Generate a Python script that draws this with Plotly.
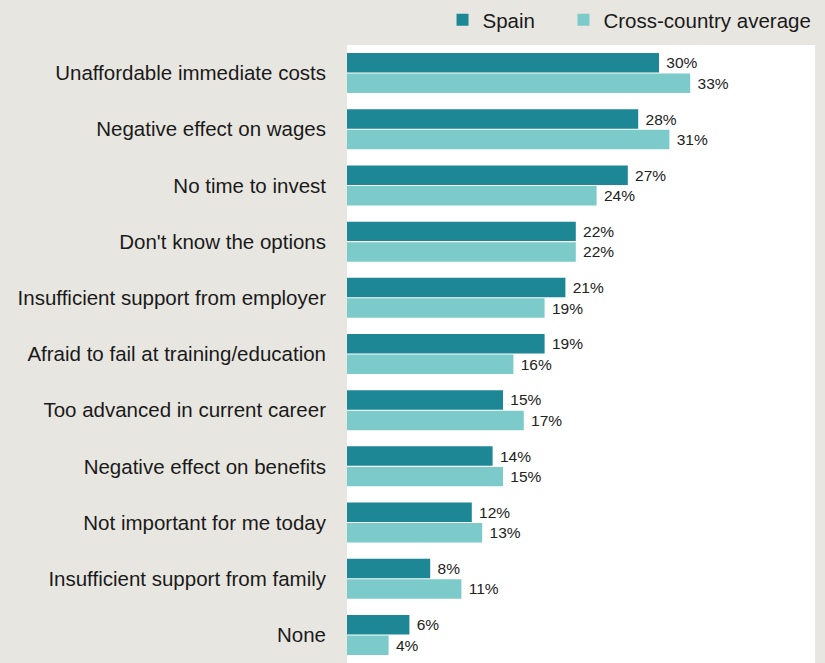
import plotly.graph_objects as go

categories = [
    "Unaffordable immediate costs",
    "Negative effect on wages",
    "No time to invest",
    "Don't know the options",
    "Insufficient support from employer",
    "Afraid to fail at training/education",
    "Too advanced in current career",
    "Negative effect on benefits",
    "Not important for me today",
    "Insufficient support from family",
    "None",
]
spain = [30, 28, 27, 22, 21, 19, 15, 14, 12, 8, 6]
cross_country = [33, 31, 24, 22, 19, 16, 17, 15, 13, 11, 4]

FONT = "Liberation Sans, Arial, sans-serif"
fig = go.Figure()
fig.add_trace(go.Bar(
    name="Spain", y=categories, x=spain, orientation="h", legend="legend",
    marker=dict(color="#1e8796", line=dict(width=0)),
    text=[f"\u00a0{v}%" for v in spain], textposition="outside",
    textfont=dict(size=15.5, color="#222222", family=FONT), cliponaxis=False,
))
fig.add_trace(go.Bar(
    name="Cross-country average", y=categories, x=cross_country, orientation="h",
    legend="legend2",
    marker=dict(color="#7ccbca", line=dict(width=0)),
    text=[f"\u00a0{v}%" for v in cross_country], textposition="outside",
    textfont=dict(size=15.5, color="#222222", family=FONT), cliponaxis=False,
))
leg = dict(orientation="h", xref="container", yref="container",
           xanchor="left", y=1.0, yanchor="top",
           font=dict(size=20.5), bgcolor="rgba(0,0,0,0)", itemwidth=30)
fig.update_layout(
    width=825, height=663,
    margin=dict(l=347, r=10, t=45, b=0),
    paper_bgcolor="#e8e6e1", plot_bgcolor="#ffffff",
    barmode="group", bargap=0.27, bargroupgap=0.05,
    font=dict(family=FONT, size=20.5, color="#1a1a1a"),
    legend=dict(leg, x=0.5364),
    legend2=dict(leg, x=0.683),
    showlegend=True,
)
fig.update_xaxes(range=[0, 45], visible=False, showgrid=False, zeroline=False)
fig.update_yaxes(range=[10.5, -0.5], showgrid=False, zeroline=False, showline=False,
                 ticks="", ticklabelstandoff=20, tickfont=dict(size=20.5))
fig.write_html("out.html", config={"displayModeBar": False},
               post_script="document.body.style.margin='0';document.body.style.padding='0';")
